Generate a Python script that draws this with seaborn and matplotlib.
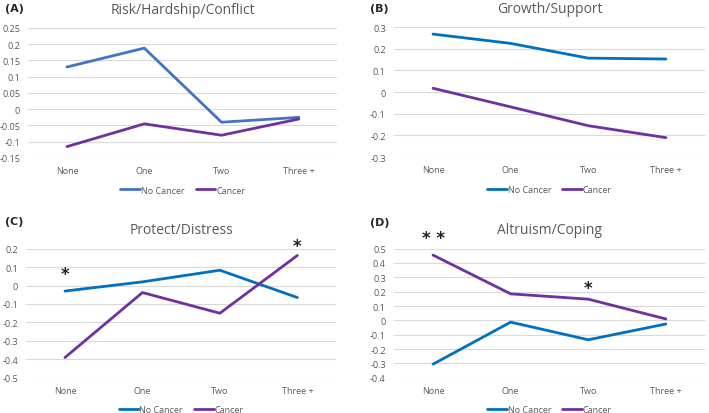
import pandas as pd
import numpy as np
import matplotlib
matplotlib.use("Agg")
import matplotlib.pyplot as plt
import seaborn as sns

# ==== data ====
categories = ["None", "One", "Two", "Three +"]

risk_no_cancer = [0.13, 0.188, -0.04, -0.025]
risk_cancer = [-0.115, -0.045, -0.08, -0.03]

growth_no_cancer = [0.268, 0.225, 0.157, 0.153]
growth_cancer = [0.018, -0.068, -0.155, -0.21]

protect_no_cancer = [-0.03, 0.02, 0.083, -0.065]
protect_cancer = [-0.39, -0.038, -0.15, 0.163]

altruism_no_cancer = [-0.305, -0.012, -0.135, -0.025]
altruism_cancer = [0.455, 0.185, 0.148, 0.01]

titles = ["Risk/Hardship/Conflict", "Growth/Support", "Protect/Distress", "Altruism/Coping"]
panel_labels = ["(A)", "(B)", "(C)", "(D)"]

# significance marks: (panel, category, y, text)
stars = [(2, "None", 0.06, "*"), (2, "Three +", 0.215, "*"),
         (3, "None", 0.575, "* *"), (3, "Two", 0.228, "*")]

yticks_list = [np.arange(-0.15, 0.2501, 0.05), np.arange(-0.3, 0.301, 0.1),
               np.arange(-0.5, 0.201, 0.1), np.arange(-0.4, 0.501, 0.1)]

sns.set_style("white")
plt.rcParams['font.family'] = ['Open Sans', 'DejaVu Sans']

fig = plt.figure(figsize=(7.09, 4.14), dpi=100)

# axes boxes in figure fractions (left, bottom, width, height)
boxes = [[0.040, 0.616, 0.436, 0.314],
         [0.556, 0.618, 0.438, 0.314],
         [0.037, 0.085, 0.437, 0.312],
         [0.556, 0.085, 0.438, 0.312]]
# panel letter positions (figure fractions)
label_pos = [(0.020, 0.978), (0.535, 0.978), (0.020, 0.464), (0.535, 0.462)]

series = [(risk_no_cancer, risk_cancer), (growth_no_cancer, growth_cancer),
          (protect_no_cancer, protect_cancer), (altruism_no_cancer, altruism_cancer)]

blues = ["#4472C4", "#0070C0", "#0070C0", "#0070C0"]
purple = "#7030A0"
grey = "#595959"


def fmt(v):
    s = f"{v:.2f}".rstrip("0").rstrip(".")
    if s in ("-0", "0"):
        return "0"
    return s


for i in range(4):
    ax = fig.add_axes(boxes[i])
    no_c, c = series[i]
    df = pd.DataFrame({"cat": categories * 2,
                       "value": list(no_c) + list(c),
                       "group": ["No Cancer"] * 4 + ["Cancer"] * 4})
    sns.lineplot(data=df, x="cat", y="value", hue="group", sort=False,
                 palette={"No Cancer": blues[i], "Cancer": purple},
                 linewidth=2.0, ax=ax)
    yt = yticks_list[i]
    ax.set_yticks(yt)
    ax.set_yticklabels([fmt(v) for v in yt])
    ax.set_ylim(yt[0], yt[-1])
    ax.set_xlim(-0.5, 3.5)
    ax.grid(axis="y", color="#D9D9D9", linewidth=0.8)
    ax.set_axisbelow(True)
    for sp in ax.spines.values():
        sp.set_visible(False)
    ax.tick_params(axis="both", length=0, labelsize=6.5, colors=grey, pad=6)
    ax.set_xlabel("")
    ax.set_ylabel("")
    ax.set_title(titles[i], fontsize=10, color=grey, pad=11)
    ax.legend(loc="upper center", bbox_to_anchor=(0.5, -0.15), ncol=2,
              frameon=False, fontsize=6.5, handlelength=2.2, handletextpad=0.1,
              columnspacing=1.2, labelcolor=grey)
    fig.text(label_pos[i][0], label_pos[i][1], panel_labels[i], fontsize=8,
             fontweight="bold", family="DejaVu Sans", ha="center", va="center")

    for p, cat, y, txt in stars:
        if p == i:
            ax.text(categories.index(cat), y, txt, ha="center", va="center",
                    fontsize=12, fontweight="bold", family="DejaVu Sans",
                    color="#222222")

fig.savefig("out.png", dpi=100)
